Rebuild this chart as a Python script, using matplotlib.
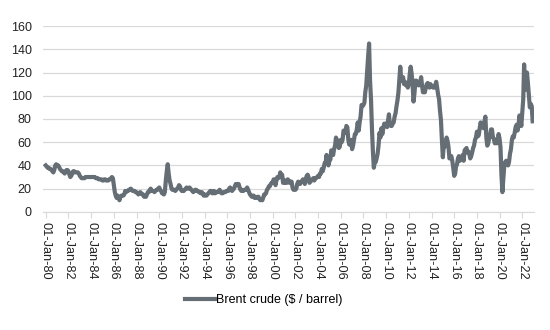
import matplotlib
matplotlib.use("Agg")
import matplotlib.pyplot as plt
import matplotlib.dates as mdates
import pandas as pd

plt.rcParams['font.family'] = ['Liberation Sans', 'DejaVu Sans']

# monthly Brent crude, $/barrel (Jan..Dec per year)
brent = {
    1980: [40, 39, 38, 38, 37, 37, 36, 35, 34, 36, 40, 41],
    1981: [40, 40, 39, 37, 36, 35, 35, 34, 33, 35, 36, 36],
    1982: [35, 32, 30, 31, 33, 35, 35, 34, 34, 34, 34, 33],
    1983: [31, 30, 29, 29, 29, 29, 30, 30, 30, 30, 30, 30],
    1984: [30, 30, 30, 30, 30, 29, 29, 29, 28, 28, 28, 28],
    1985: [27, 27, 28, 28, 27, 27, 27, 28, 28, 29, 30, 29],
    1986: [23, 17, 14, 12, 14, 12, 10, 13, 14, 14, 14, 15],
    1987: [18, 17, 18, 18, 19, 19, 20, 19, 18, 18, 18, 17],
    1988: [17, 16, 15, 16, 17, 16, 15, 15, 13, 13, 13, 15],
    1989: [17, 17, 19, 20, 18, 18, 18, 17, 18, 19, 19, 20],
    1990: [21, 19, 18, 16, 17, 15, 17, 27, 35, 41, 33, 27],
    1991: [24, 20, 19, 19, 19, 18, 19, 20, 21, 23, 22, 19],
    1992: [18, 18, 18, 19, 20, 21, 20, 20, 21, 20, 19, 18],
    1993: [17, 18, 19, 19, 18, 18, 17, 17, 16, 17, 16, 14],
    1994: [15, 14, 14, 15, 16, 17, 18, 18, 16, 16, 18, 16],
    1995: [17, 17, 17, 18, 19, 17, 16, 16, 17, 17, 17, 18],
    1996: [18, 18, 20, 21, 19, 18, 19, 20, 22, 24, 23, 24],
    1997: [24, 21, 19, 18, 19, 18, 19, 19, 19, 21, 19, 17],
    1998: [15, 14, 13, 14, 14, 12, 12, 12, 13, 13, 11, 10],
    1999: [11, 10, 12, 15, 15, 16, 19, 20, 22, 22, 24, 25],
    2000: [25, 28, 28, 23, 27, 30, 29, 30, 34, 31, 32, 25],
    2001: [25, 27, 25, 25, 28, 27, 25, 26, 26, 21, 19, 19],
    2002: [19, 20, 24, 26, 25, 24, 26, 26, 28, 27, 24, 28],
    2003: [31, 32, 30, 25, 26, 27, 28, 29, 27, 29, 29, 30],
    2004: [31, 30, 33, 33, 37, 35, 38, 42, 42, 49, 43, 40],
    2005: [44, 45, 53, 52, 49, 54, 57, 64, 62, 58, 55, 56],
    2006: [62, 60, 62, 70, 69, 68, 74, 73, 62, 58, 58, 62],
    2007: [54, 57, 62, 67, 67, 71, 77, 70, 77, 82, 92, 91],
    2008: [92, 94, 103, 109, 122, 134, 145, 113, 97, 72, 52, 38],
    2009: [43, 43, 46, 50, 57, 68, 64, 72, 67, 72, 76, 74],
    2010: [76, 73, 78, 84, 75, 74, 74, 76, 77, 82, 85, 91],
    2011: [96, 103, 114, 125, 114, 113, 116, 110, 112, 109, 110, 107],
    2012: [110, 119, 125, 119, 110, 95, 102, 113, 113, 111, 109, 109],
    2013: [112, 116, 109, 103, 103, 103, 107, 110, 111, 109, 107, 110],
    2014: [108, 108, 107, 107, 109, 112, 107, 101, 97, 87, 79, 62],
    2015: [47, 58, 56, 59, 64, 61, 56, 46, 47, 48, 44, 38],
    2016: [31, 33, 39, 41, 46, 48, 44, 46, 46, 49, 44, 53],
    2017: [54, 55, 51, 52, 50, 46, 48, 51, 55, 57, 62, 64],
    2018: [69, 65, 66, 72, 77, 74, 74, 72, 78, 82, 64, 57],
    2019: [59, 64, 66, 71, 71, 64, 63, 59, 62, 59, 62, 67],
    2020: [63, 55, 32, 17, 29, 40, 43, 44, 41, 40, 43, 50],
    2021: [54, 62, 65, 64, 68, 73, 75, 70, 74, 83, 80, 74],
    2022: [86, 97, 127, 105, 113, 120, 111, 100, 90, 93, 91, 78],
}

years = sorted(brent)
values = [v for y in years for v in brent[y]]
dates = pd.date_range("1980-01-01", periods=len(values), freq="MS")

fig = plt.figure(figsize=(5.5, 3.3), dpi=100)
ax = fig.add_axes([0.078, 0.358, 0.893, 0.563])

ax.plot(dates, values, color="#656d75", lw=3.0, label="Brent crude ($ / barrel)")

ax.set_ylim(0, 160)
ax.set_yticks(range(0, 161, 20))
ax.set_xlim(pd.Timestamp("1979-10-01"), pd.Timestamp("2023-01-15"))
ax.xaxis.set_major_locator(mdates.YearLocator(2, month=1, day=1))
ax.xaxis.set_major_formatter(mdates.DateFormatter("%d-%b-%y"))
ax.tick_params(axis="x", rotation=270, labelsize=9.2, colors="#d9d9d9",
               labelcolor="#222222", length=4, width=0.8, pad=3)
ax.tick_params(axis="y", labelsize=9, length=0, pad=8, labelcolor="#222222")
for lbl in ax.get_xticklabels():
    lbl.set_va("top")
    lbl.set_ha("center")

ax.grid(axis="y", color="#d9d9d9", lw=0.9)
ax.set_axisbelow(True)
for s in ["left", "right", "top"]:
    ax.spines[s].set_visible(False)
ax.spines["bottom"].set_color("#d9d9d9")

fig.legend(loc="center", bbox_to_anchor=(0.48, 0.09), frameon=False,
           fontsize=9, handlelength=2.4, handletextpad=0.1)

fig.savefig("out.png", dpi=100)
